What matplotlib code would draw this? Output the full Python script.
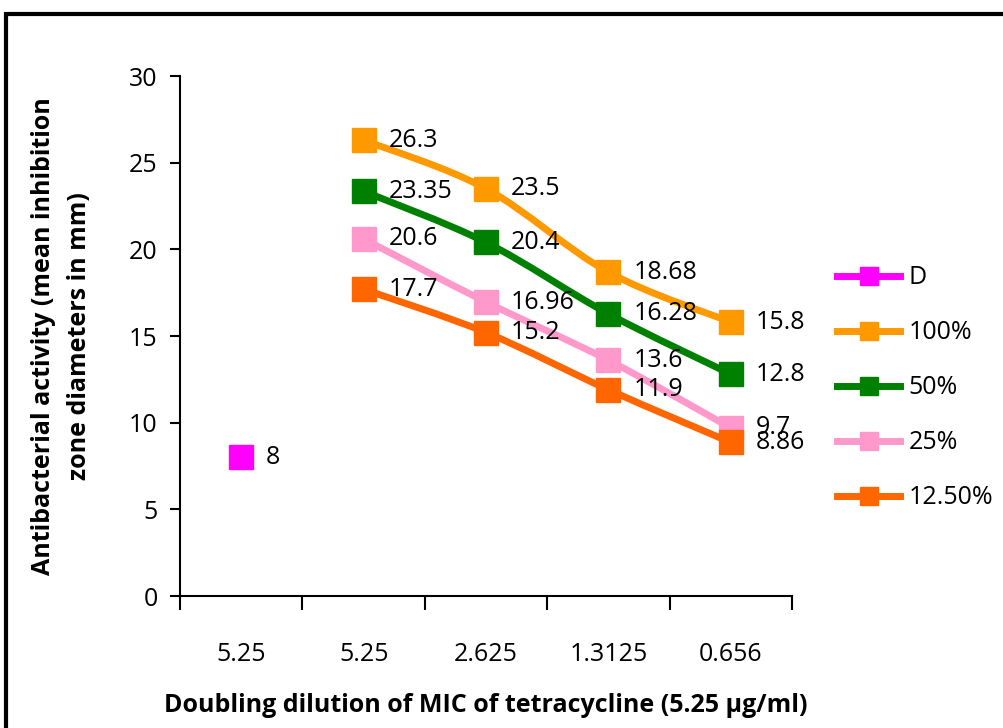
import matplotlib.pyplot as plt
from matplotlib.path import Path
from matplotlib.patches import PathPatch, Rectangle
from matplotlib.lines import Line2D

plt.rcParams['font.family'] = ['Open Sans', 'DejaVu Sans']

# categories along the x axis (doubling dilutions, ug/ml)
dilutions = ['5.25', '5.25', '2.625', '1.3125', '0.656']

# control disc, only at the first position
d_x = [0]
d_vals = [8]

# extract concentrations, measured at the four dilutions
conc_x = [1, 2, 3, 4]
series_names = ['100%', '50%', '25%', '12.50%']
vals_100 = [26.3, 23.5, 18.68, 15.8]
vals_50 = [23.35, 20.4, 16.28, 12.8]
vals_25 = [20.6, 16.96, 13.6, 9.7]
vals_125 = [17.7, 15.2, 11.9, 8.86]

colors = {'D': '#ff00ff', '100%': '#ff9900', '50%': '#008000',
          '25%': '#ff99cc', '12.50%': '#ff6600'}


def smooth_path(xs, ys):
    # Catmull-Rom style bezier through the points, like a smoothed line
    pts = list(zip(xs, ys))
    verts = [pts[0]]
    codes = [Path.MOVETO]
    n = len(pts)
    for i in range(n - 1):
        p0 = pts[i - 1] if i > 0 else pts[i]
        p1 = pts[i]
        p2 = pts[i + 1]
        p3 = pts[i + 2] if i + 2 < n else pts[i + 1]
        c1 = (p1[0] + (p2[0] - p0[0]) / 6, p1[1] + (p2[1] - p0[1]) / 6)
        c2 = (p2[0] - (p3[0] - p1[0]) / 6, p2[1] - (p3[1] - p1[1]) / 6)
        verts += [c1, c2, p2]
        codes += [Path.CURVE4] * 3
    return Path(verts, codes)


fig = plt.figure(figsize=(10.04, 7.28), dpi=100)
ax = fig.add_axes([0.1793, 0.1813, 0.6096, 0.7143])

lw = 5
ms = 17
label_size = 18

# D control
ax.plot(d_x, d_vals, 's', color=colors['D'], markersize=ms, zorder=3)
for x, v in zip(d_x, d_vals):
    ax.annotate(f'{v:g}', (x, v), xytext=(18, 0), textcoords='offset points',
                ha='left', va='center', fontsize=label_size, zorder=10)

all_series = [vals_100, vals_50, vals_25, vals_125]
for k, (name, vals) in enumerate(zip(series_names, all_series)):
    z = 4 + k
    patch = PathPatch(smooth_path(conc_x, vals), facecolor='none',
                      edgecolor=colors[name], lw=lw, zorder=z,
                      capstyle='round', joinstyle='round')
    ax.add_patch(patch)
    ax.plot(conc_x, vals, 's', color=colors[name], markersize=ms, zorder=z)
    for x, v in zip(conc_x, vals):
        ax.annotate(f'{v:g}', (x, v), xytext=(18, 0), textcoords='offset points',
                    ha='left', va='center', fontsize=label_size, zorder=10)

ax.set_xlim(-0.5, 4.5)
ax.set_ylim(0, 30)
ax.set_yticks(range(0, 31, 5))
ax.set_xticks([i - 0.5 for i in range(6)])
ax.set_xticklabels([])
ax.set_xticks(range(5), minor=True)
ax.set_xticklabels(dilutions, minor=True)
ax.tick_params(axis='x', which='major', direction='out', length=10, width=1.5)
ax.tick_params(axis='x', which='minor', length=0, pad=33, labelsize=18)
ax.tick_params(axis='y', direction='out', length=7, width=1.5, labelsize=18, pad=9)

for s in ['top', 'right']:
    ax.spines[s].set_visible(False)
for s in ['left', 'bottom']:
    ax.spines[s].set_linewidth(1.5)

ax.set_xlabel('Doubling dilution of MIC of tetracycline (5.25 \u00b5g/ml)',
              fontsize=18, fontweight='bold', labelpad=19)
ax.set_ylabel('Antibacterial activity (mean inhibition\nzone diameters in mm)',
              fontsize=18, fontweight='bold', labelpad=27, linespacing=1.55)

handles = [Line2D([], [], color=colors[n], lw=lw, marker='s', markersize=13)
           for n in ['D'] + series_names]
fig.legend(handles, ['D'] + series_names, loc='upper left',
           bbox_to_anchor=(815 / 1004, 1 - 243 / 728), frameon=False,
           fontsize=18, handlelength=2.5, labelspacing=1.2, handletextpad=0.35)

# outer chart border
fig.patches.append(Rectangle((6 / 1004, -0.05), 1.2, 1 - 14 / 728 + 0.05,
                             transform=fig.transFigure, fill=False,
                             edgecolor='black', lw=3))

fig.savefig('out.png', dpi=100)
